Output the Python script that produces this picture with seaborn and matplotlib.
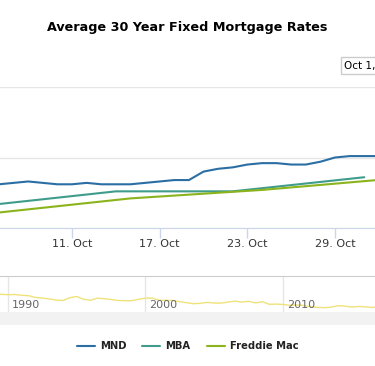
import pandas as pd
import numpy as np
import matplotlib
matplotlib.use("Agg")
import matplotlib.pyplot as plt
import matplotlib.dates as mdates
from matplotlib.patches import Rectangle
from matplotlib.lines import Line2D
import seaborn as sns

# data
mnd_dates = pd.date_range("2023-10-05", "2023-11-01", freq="D")
mnd_rates = [7.29, 7.31, 7.32, 7.33, 7.32, 7.31, 7.31, 7.32, 7.31, 7.31,
             7.31, 7.32, 7.33, 7.34, 7.34, 7.40, 7.42, 7.43, 7.45, 7.46,
             7.46, 7.45, 7.45, 7.47, 7.50, 7.51, 7.51, 7.51]
mba_dates = pd.to_datetime(["2023-10-06", "2023-10-14", "2023-10-22", "2023-10-31"])
mba_rates = [7.17, 7.26, 7.26, 7.36]
fm_dates = pd.to_datetime(["2023-10-06", "2023-10-15", "2023-10-24", "2023-11-02"])
fm_rates = [7.11, 7.21, 7.27, 7.35]

# navigator (Freddie Mac history)
nav_years = [1989.0, 1989.5, 1990.0, 1990.5, 1991.0, 1991.5, 1992.0, 1992.5, 1993.0, 1993.5,
             1994.0, 1994.5, 1995.0, 1995.5, 1996.0, 1996.5, 1997.0, 1997.5, 1998.0, 1998.5,
             1999.0, 1999.5, 2000.0, 2000.5, 2001.0, 2001.5, 2002.0, 2002.5, 2003.0, 2003.5,
             2004.0, 2004.5, 2005.0, 2005.5, 2006.0, 2006.5, 2007.0, 2007.5, 2008.0, 2008.5,
             2009.0, 2009.5, 2010.0, 2010.5, 2011.0, 2011.5, 2012.0, 2012.5, 2013.0, 2013.5,
             2014.0, 2014.5, 2015.0, 2015.5, 2016.0, 2016.5, 2017.0]
nav_rates = [10.4, 10.1, 9.9, 10.0, 9.6, 9.4, 8.5, 8.2, 7.8, 7.2,
             7.0, 8.4, 9.0, 7.6, 7.1, 8.2, 7.9, 7.5, 7.0, 6.9,
             6.9, 7.6, 8.2, 8.2, 7.1, 7.1, 7.0, 6.4, 5.9, 5.4,
             5.6, 6.1, 5.7, 5.7, 6.2, 6.7, 6.2, 6.6, 5.8, 6.4,
             5.1, 5.2, 5.0, 4.6, 4.8, 4.5, 3.9, 3.6, 3.4, 3.7,
             4.4, 4.2, 3.7, 4.0, 3.8, 3.5, 4.1]
nav_ticks = [1990, 2000, 2010]

series = ["MND", "MBA", "Freddie Mac"]
colors = ["#2b6ea4", "#3f9c8a", "#8bb31c"]

df = pd.concat([
    pd.DataFrame({"date": mnd_dates, "rate": mnd_rates, "series": "MND"}),
    pd.DataFrame({"date": mba_dates, "rate": mba_rates, "series": "MBA"}),
    pd.DataFrame({"date": fm_dates, "rate": fm_rates, "series": "Freddie Mac"}),
])
nav_df = pd.DataFrame({"year": nav_years, "rate": nav_rates})

sns.set_style("white")
plt.rcParams["font.family"] = ["DejaVu Sans"]

fig = plt.figure(figsize=(3.75, 3.66), dpi=100)
H = 366.0

# main chart
ax = fig.add_axes([0, 1 - 228 / H, 1, (228 - 87) / H])
sns.lineplot(data=df, x="date", y="rate", hue="series", hue_order=series,
             palette=colors, linewidth=1.5, legend=False, ax=ax)
x0 = mdates.date2num(pd.Timestamp("2023-10-06")) + 0.07
ax.set_xlim(x0, x0 + 375 / 14.61)
ax.set_ylim(7.0, 8.0)
ax.set_yticks([7.0, 7.5, 8.0])
ax.yaxis.grid(True, color="#e6e6e6", linewidth=1)
ax.tick_params(axis="y", left=False, labelleft=False)
ax.set_xticks(pd.to_datetime(["2023-10-11", "2023-10-17", "2023-10-23", "2023-10-29"]))
ax.xaxis.set_major_formatter(mdates.DateFormatter("%d. %b"))
ax.tick_params(axis="x", bottom=True, length=7, width=1, color="#ccd6eb",
               labelsize=8, labelcolor="#333333", pad=1)
for s in ["top", "left", "right"]:
    ax.spines[s].set_visible(False)
ax.spines["bottom"].set_color("#ccd6eb")
ax.set_xlabel("")
ax.set_ylabel("")

# navigator
nav = fig.add_axes([0, 1 - 312 / H, 1, (312 - 276) / H])
sns.lineplot(data=nav_df, x="year", y="rate", color="#f0e27a", linewidth=1, ax=nav)
nav.set_xlim(1989.42, 1989.42 + 375 / 13.75)
nav.set_ylim(1.25, 19.25)
nav.set_xticks(nav_ticks)
nav.xaxis.grid(True, color="#e6e6e6", linewidth=1)
nav.tick_params(axis="both", bottom=False, left=False, labelbottom=False, labelleft=False)
for yr in nav_ticks:
    nav.text(yr + 0.3, 0.2, str(yr), transform=nav.get_xaxis_transform(),
             fontsize=8, color="#666666", ha="left", va="center")
for s in ["bottom", "left", "right"]:
    nav.spines[s].set_visible(False)
nav.spines["top"].set_color("#cccccc")
nav.set_xlabel("")
nav.set_ylabel("")

# scrollbar band
fig.patches.append(Rectangle((0, 1 - 325 / H), 1, 13 / H, transform=fig.transFigure,
                             facecolor="#f2f2f2", edgecolor="none"))

# title and range input
fig.text(0.5, 1 - 27 / H, "Average 30 Year Fixed Mortgage Rates", ha="center", va="center",
         fontsize=9.2, fontweight="bold", color="#000000")
fig.text(0.917, 1 - 65.5 / H, "Oct 1,", ha="left", va="center", fontsize=7.5, color="#000000",
         bbox=dict(facecolor="white", edgecolor="#cccccc", boxstyle="square,pad=0.3"))

# legend
handles = [Line2D([0], [0], color=c, linewidth=1.5) for c in colors]
leg = fig.legend(handles, series, loc="center", bbox_to_anchor=(0.5, 1 - 346 / H), ncol=3,
                 frameon=False, handlelength=1.8, handletextpad=0.5, columnspacing=1.6,
                 prop={"weight": "bold", "size": 7.2})
for t in leg.get_texts():
    t.set_color("#222222")

fig.savefig("out.png", dpi=100)
